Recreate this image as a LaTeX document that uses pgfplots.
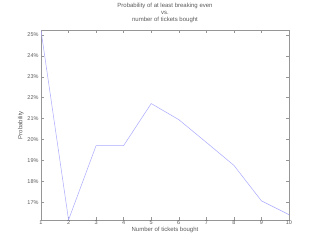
\documentclass[border=0pt]{standalone}
\usepackage{pgfplots}
\pgfplotsset{compat=1.18}
\usepackage{fontspec}
\setmainfont{Liberation Sans}
\definecolor{linec}{RGB}{170,170,255}
\definecolor{axc}{RGB}{150,150,150}
\definecolor{txc}{RGB}{90,90,90}
\begin{document}
\begin{tikzpicture}[x=1pt,y=1pt]
\path (0,0) rectangle (320,240);
\begin{axis}[
  at={(41pt,28.3pt)}, anchor=south west,
  scale only axis, width=248pt, height=189.4pt,
  xmin=1, xmax=10, ymin=16.15, ymax=25.22,
  xtick={1,...,10}, ytick={17,...,25},
  yticklabel={\pgfmathprintnumber{\tick}\%},
  /pgf/number format/assume math mode=true,
  tick align=inside, tick pos=both,
  major tick length=2.5pt,
  axis line style={axc, line width=0.4pt},
  tick style={axc, line width=0.4pt},
  every tick label/.append style={font=\fontsize{5.5}{6}\selectfont, text=txc},
  xticklabel style={yshift=3pt},
  yticklabel style={xshift=1pt},
  label style={font=\fontsize{6}{7}\selectfont, text=txc},
  xlabel={Number of tickets bought},
  ylabel={Probability},
  xlabel style={yshift=4.5pt},
  ylabel style={yshift=-3pt},
  title style={font=\fontsize{6}{7}\selectfont, text=txc, align=center, yshift=-2pt},
  title={Probability of at least breaking even\\vs.\\number of tickets bought},
]
\addplot[linec, line width=0.5pt] coordinates {
(1,25.22) (2,16.15) (3,19.71) (4,19.71) (5,21.72) (6,20.95) (7,19.86) (8,18.76) (9,17.06) (10,16.4)
};
\end{axis}
\end{tikzpicture}
\end{document}
